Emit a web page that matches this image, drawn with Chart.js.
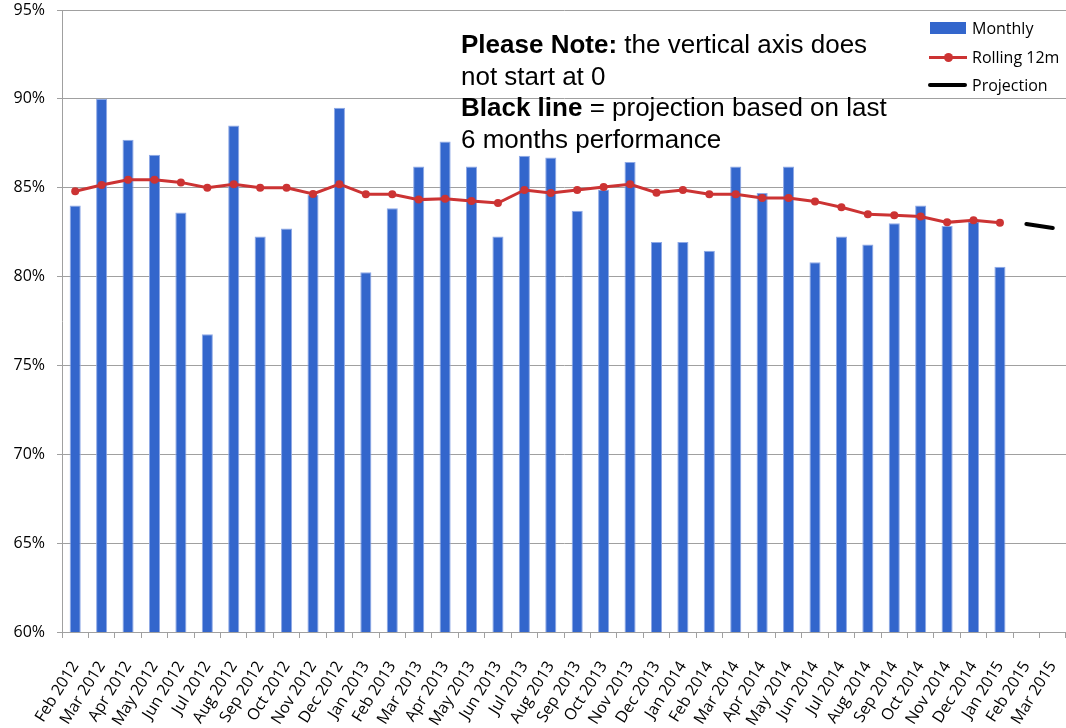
<!DOCTYPE html>
<html>
<head>
<meta charset="utf-8">
<script src="https://cdn.jsdelivr.net/npm/chart.js@4.4.1/dist/chart.umd.min.js"></script>
<style>
  html, body { margin: 0; padding: 0; background: #fff; overflow: hidden; }
  #wrap { position: relative; width: 1066px; height: 728px; }
  #note { position: absolute; left: 461px; top: 29px; font-family: "Liberation Sans", Arial, sans-serif;
          font-size: 26px; line-height: 31.5px; color: #000; white-space: nowrap; }
  #legend { position: absolute; left: 928px; top: 17px; font-family: "Open Sans", sans-serif; font-size: 16px; color: #000; white-space: nowrap; }
  .li { position: relative; height: 28.5px; width: 136px; }
  .li span.t { position: absolute; left: 44px; top: 0; line-height: 22px; white-space: nowrap; }
  .sw { position: absolute; left: 0; }
</style>
</head>
<body>
<div id="wrap">
  <canvas id="c" width="1066" height="728"></canvas>
  <div id="note"><b>Please Note:</b> the vertical axis does<br>not start at 0<br><b>Black line</b> = projection based on last<br>6 months performance</div>
  <div id="legend">
    <div class="li"><div class="sw" style="left:2px;top:5px;width:36px;height:12px;background:#3366CC;"></div><span class="t">Monthly</span></div>
    <div class="li"><div class="sw" style="left:1px;top:10px;width:38px;height:3px;background:#CC3333;"></div><div class="sw" style="left:16px;top:7px;width:9px;height:9px;border-radius:50%;background:#CC3333;"></div><span class="t">Rolling 12m</span></div>
    <div class="li"><div class="sw" style="left:0px;top:9px;width:39px;height:4px;border-radius:2px;background:#000;"></div><span class="t">Projection</span></div>
  </div>
</div>
<script>
const categories = ["Feb 2012","Mar 2012","Apr 2012","May 2012","Jun 2012","Jul 2012","Aug 2012","Sep 2012","Oct 2012","Nov 2012","Dec 2012",
  "Jan 2013","Feb 2013","Mar 2013","Apr 2013","May 2013","Jun 2013","Jul 2013","Aug 2013","Sep 2013","Oct 2013","Nov 2013","Dec 2013",
  "Jan 2014","Feb 2014","Mar 2014","Apr 2014","May 2014","Jun 2014","Jul 2014","Aug 2014","Sep 2014","Oct 2014","Nov 2014","Dec 2014",
  "Jan 2015","Feb 2015","Mar 2015"];
const monthly = [84.0, 90.0, 87.7, 86.85, 83.6, 76.75, 88.5, 82.25, 82.7, 84.6, 89.5,
  80.25, 83.85, 86.2, 87.6, 86.2, 82.25, 86.8, 86.7, 83.7, 84.9, 86.45, 81.95,
  81.95, 81.45, 86.2, 84.7, 86.2, 80.8, 82.25, 81.8, 83.0, 84.0, 82.85, 83.1,
  80.55, null, null];
const rolling12m = [84.8, 85.15, 85.45, 85.45, 85.3, 85.0, 85.2, 85.0, 85.0, 84.65, 85.2,
  84.63, 84.63, 84.33, 84.38, 84.25, 84.14, 84.87, 84.7, 84.87, 85.04, 85.19, 84.72,
  84.87, 84.63, 84.63, 84.42, 84.42, 84.23, 83.9, 83.5, 83.45, 83.38, 83.05, 83.17,
  83.03, null, null];
const projection = [null,null,null,null,null,null,null,null,null,null,null,null,null,null,null,null,null,null,
  null,null,null,null,null,null,null,null,null,null,null,null,null,null,null,null,null,null, 82.96, 82.73];
const yTicks = [60, 65, 70, 75, 80, 85, 90, 95];

const grey = '#a0a0a0';
new Chart(document.getElementById('c'), {
  data: {
    labels: categories,
    datasets: [
      { type: 'line', label: 'Projection', data: projection, borderColor: '#000', backgroundColor: '#000',
        borderWidth: 4, pointRadius: 0, borderCapStyle: 'round', order: 0, clip: false },
      { type: 'line', label: 'Rolling 12m', data: rolling12m, borderColor: '#CC3333', backgroundColor: '#CC3333',
        borderWidth: 3, pointRadius: 4, pointHoverRadius: 4, pointBorderWidth: 0, order: 1, tension: 0, clip: false },
      { type: 'bar', label: 'Monthly', data: monthly, backgroundColor: '#3366CC', borderColor: '#8FA9E6',
        borderWidth: 1, barPercentage: 0.42, categoryPercentage: 1, order: 2 }
    ]
  },
  options: {
    responsive: false,
    animation: false,
    events: [],
    layout: { autoPadding: false, padding: { top: 10, right: 0, left: 0, bottom: 0 } },
    plugins: { legend: { display: false }, tooltip: { enabled: false } },
    scales: {
      x: {
        offset: true,
        grid: { offset: true, drawOnChartArea: false, drawTicks: true, tickLength: 6, color: grey },
        border: { color: grey, width: 1 },
        ticks: { minRotation: 58, maxRotation: 58, autoSkip: false, padding: 20,
                 font: { family: 'Open Sans', size: 16 }, color: '#000' },
        afterFit: s => { s.height = 96; s.paddingLeft = 0; s.paddingRight = 0; }
      },
      y: {
        min: 60, max: 95,
        afterBuildTicks: s => { s.ticks = yTicks.map(v => ({ value: v })); },
        grid: { color: grey, lineWidth: 1, tickLength: 5, drawTicks: true },
        border: { color: grey, width: 1 },
        ticks: { callback: v => v + '%', padding: 12, font: { family: 'Open Sans', size: 16 }, color: '#000' },
        afterFit: s => { s.width = 62; s.paddingTop = 0; s.paddingBottom = 0; }
      }
    }
  }
});
</script>
</body>
</html>
